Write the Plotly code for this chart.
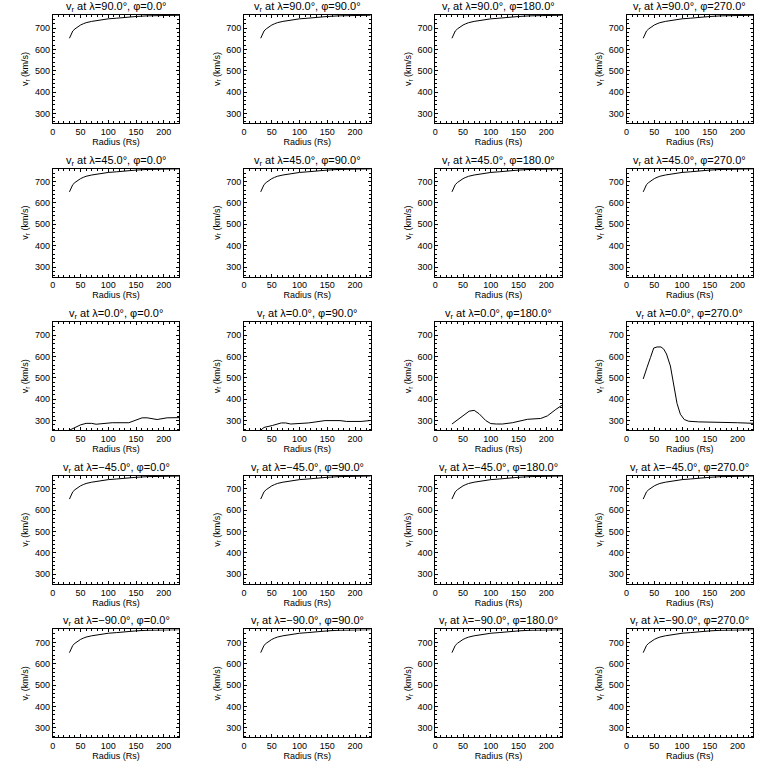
import plotly.graph_objects as go

# ---- data ----
latitudes = [90.0, 45.0, 0.0, -45.0, -90.0]
longitudes = [0.0, 90.0, 180.0, 270.0]

r_fast = [30, 33, 36, 40, 45, 50, 55, 60, 70, 80, 90, 100, 115, 130, 150, 170, 190, 210, 230]
v_fast = [652, 672, 686, 696, 706, 714, 720, 725, 731, 736, 740, 743, 746, 750, 754, 757, 759, 760, 760]

r_eq0 = [30, 42, 50, 60, 70, 78, 85, 92, 107, 137, 149, 161, 170, 188, 206, 230]
v_eq0 = [255, 271, 280, 287, 287, 283, 284, 287, 290, 290, 300, 313, 313, 305, 313, 314]

r_eq90 = [30, 36, 51, 67, 75, 84, 116, 134, 146, 173, 185, 211, 224, 230]
v_eq90 = [255, 268, 277, 289, 289, 284, 289, 294, 300, 300, 296, 296, 300, 301]

r_eq180 = [30, 46, 61, 70, 79, 91, 100, 110, 121, 139, 166, 190, 202, 217, 230]
v_eq180 = [284, 316, 344, 348, 332, 300, 286, 284, 284, 290, 306, 310, 322, 352, 375]

r_eq270 = [30, 34, 37, 43, 49, 55, 62, 67, 72, 79, 85, 91, 97, 104, 112, 130, 200, 230]
v_eq270 = [495, 530, 550, 595, 640, 645, 645, 635, 612, 556, 463, 380, 330, 305, 297, 294, 290, 287]

eq_series = {0.0: (r_eq0, v_eq0), 90.0: (r_eq90, v_eq90),
             180.0: (r_eq180, v_eq180), 270.0: (r_eq270, v_eq270)}

x_range = [0, 228]
y_range = [255, 761]
x_ticks = [0, 50, 100, 150, 200]
y_ticks = [300, 400, 500, 600, 700]

# ---- layout geometry (pixels) ----
W = H = 768
col_left0, col_w, col_step = 50, 127, 192
row_top0, row_h, row_step = 15, 108, 153.6

FONT = "Liberation Sans"
fig = go.Figure()
annotations = []
layout = {}

for i, lat in enumerate(latitudes):
    for j, lon in enumerate(longitudes):
        k = i * 4 + j + 1
        xs = "" if k == 1 else str(k)
        if lat == 0.0:
            r, v = eq_series[lon]
        else:
            r, v = r_fast, v_fast
        fig.add_trace(go.Scatter(x=r, y=v, mode="lines",
                                 line=dict(color="black", width=1),
                                 xaxis="x" + xs, yaxis="y" + xs,
                                 showlegend=False, hoverinfo="skip"))
        left = col_left0 + j * col_step
        right = left + col_w
        top = row_top0 + i * row_step
        bottom = top + row_h
        common = dict(showline=True, linecolor="black", linewidth=1, mirror="ticks",
                      ticks="inside", ticklen=3, tickwidth=1, tickcolor="black",
                      showgrid=False, zeroline=False,
                      tickfont=dict(family=FONT, size=9, color="black"),
                      title_font=dict(family=FONT, size=9, color="black"))
        layout["xaxis" + xs] = dict(
            domain=[left / W, right / W], range=x_range, anchor="y" + xs,
            tickvals=x_ticks, title=dict(text="Radius (Rs)", standoff=1),
            minor=dict(dtick=10, ticks="inside", ticklen=2, tickcolor="black", tick0=0),
            **common)
        layout["yaxis" + xs] = dict(
            domain=[1 - bottom / H, 1 - top / H], range=y_range, anchor="x" + xs,
            tickvals=y_ticks, title=dict(text="v<sub>r</sub> (km/s)", standoff=4),
            minor=dict(dtick=20, ticks="inside", ticklen=2, tickcolor="black", tick0=0),
            **common)
        lat_s = f"{lat:.1f}".replace("-", "−")
        annotations.append(dict(
            text=f"v<sub>r</sub> at λ={lat_s}°, φ={lon:.1f}°",
            x=(left + right) / 2 / W, y=1 - (top - 8) / H,
            xref="paper", yref="paper", xanchor="center", yanchor="middle",
            showarrow=False, font=dict(family=FONT, size=11, color="black")))

fig.update_layout(width=W, height=H, margin=dict(l=0, r=0, t=0, b=0),
                  paper_bgcolor="white", plot_bgcolor="white",
                  annotations=annotations, **layout)
fig.write_html("out.html", config={"displayModeBar": False},
               post_script="document.body.style.margin='0';document.body.style.overflow='hidden';")
